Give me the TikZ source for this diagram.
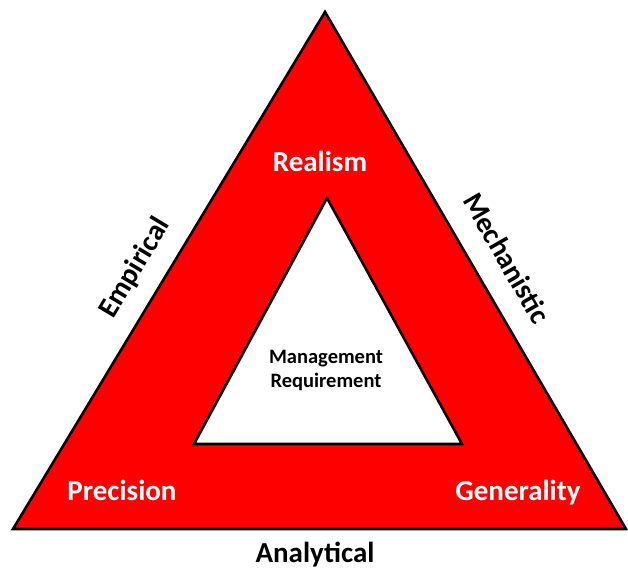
\documentclass[tikz,border=0pt]{standalone}
\usepackage{fontspec}
\setmainfont{Carlito}
\definecolor{tri}{RGB}{255,0,0}
\begin{document}
\begin{tikzpicture}[x=1pt,y=-1pt,
  edge/.style={draw=black,line width=2.6pt,line join=miter},
  big/.style={font=\bfseries\fontsize{29}{33}\selectfont, inner sep=0pt},
  small/.style={font=\bfseries\fontsize{20.5}{24}\selectfont, align=center, inner sep=0pt}]
\useasboundingbox (0,0) rectangle (628,572);
\coordinate (A) at (325,12);
\coordinate (B) at (13,529);
\coordinate (C) at (626,529);
\coordinate (a) at (327,198);
\coordinate (b) at (194,444);
\coordinate (c) at (462,444);
\path[edge,fill=tri,even odd rule] (A) -- (B) -- (C) -- cycle (a) -- (b) -- (c) -- cycle;
\node[big,text=white] (realism) at (320,161) {Realism};
\node[big,text=white] (precision) at (122,490) {Precision};
\node[big,text=white] (generality) at (518,493) {Generality};
\node[big] (analytical) at (315,555) {Analytical};
\node[big,rotate=59] (empirical) at (135,268) {Empirical};
\node[big,rotate=-60] (mechanistic) at (507,258) {Mechanistic};
\node[small] (mgmt) at (326,370) {Management\\Requirement};
\end{tikzpicture}
\end{document}
